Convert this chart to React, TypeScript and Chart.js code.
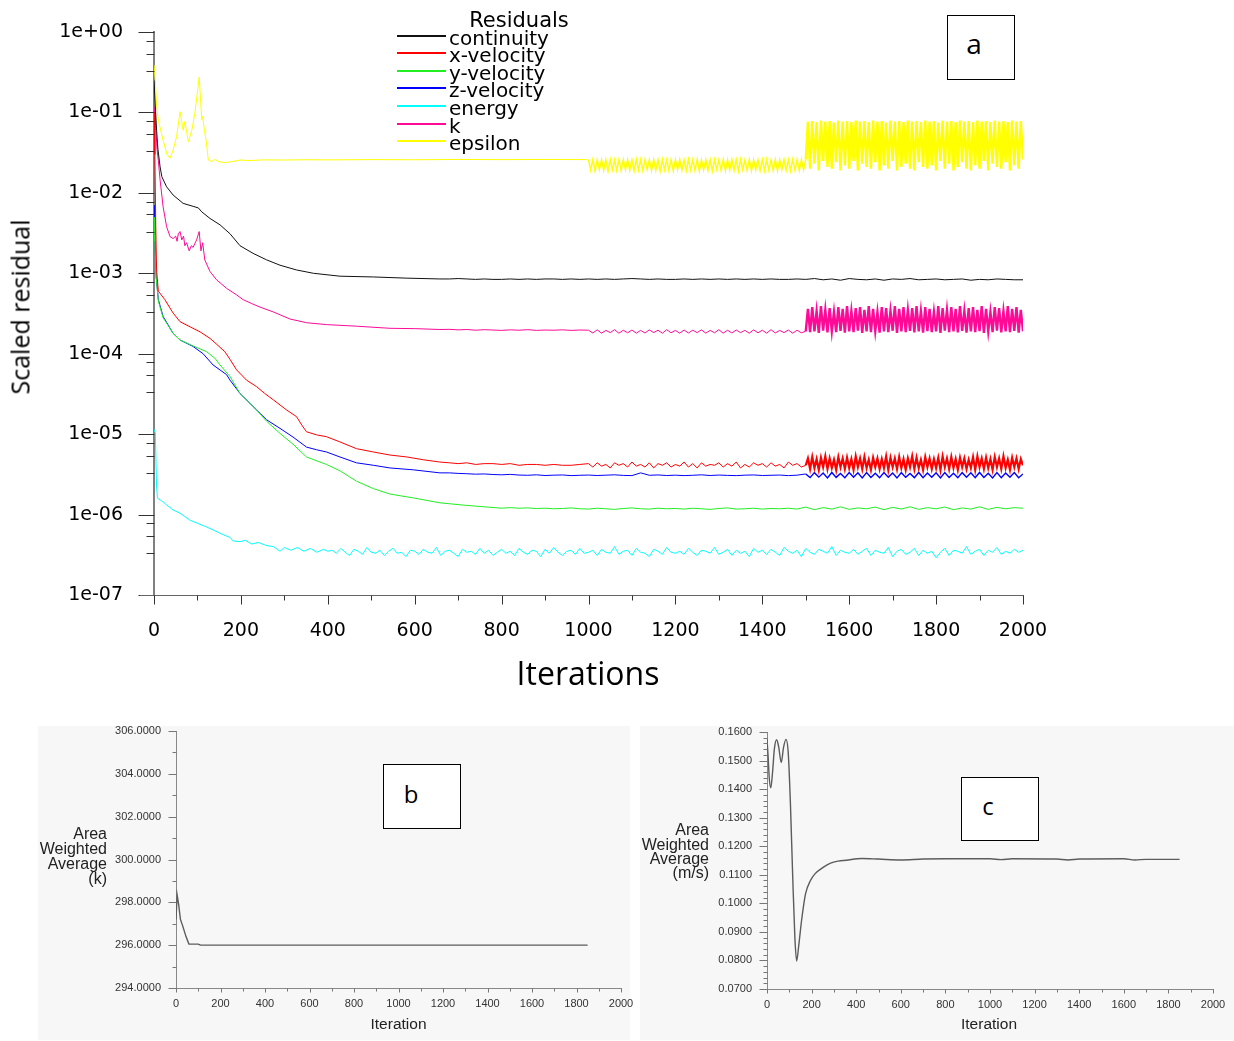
import React, { useEffect, useRef } from 'react';
import { Chart, registerables } from 'chart.js';

Chart.register(...registerables);

// ---------------- Panel (a): scaled residuals ----------------
const RES_SERIES_NAMES = ['continuity', 'x-velocity', 'y-velocity', 'z-velocity', 'energy', 'k', 'epsilon'];
const RES_SERIES_COLORS = ['#111111', '#ff0000', '#22ee22', '#0000ff', '#00ffff', '#ff0a96', '#ffff00'];
const RES_Y_DECADES = [1, 1e-1, 1e-2, 1e-3, 1e-4, 1e-5, 1e-6, 1e-7];
const RES_Y_LABELS = ['1e+00', '1e-01', '1e-02', '1e-03', '1e-04', '1e-05', '1e-06', '1e-07'];
const RES_Y_MINOR_FACTORS = [0.78, 0.54, 0.33];
const RES_X_TICKS = [0, 200, 400, 600, 800, 1000, 1200, 1400, 1600, 1800, 2000];
const RES_X_MINOR = [100, 300, 500, 700, 900, 1100, 1300, 1500, 1700, 1900];

// [iteration, residual]
const continuityHead: [number, number][] = [[0, 0.25], [3, 0.12], [6, 0.06], [9, 0.035], [14, 0.0211], [18, 0.0159], [29, 0.0119], [44, 0.0094], [67, 0.0074], [90, 0.0068], [102, 0.0065], [110, 0.0058], [129, 0.0048], [152, 0.004], [175, 0.0031], [198, 0.0022], [228, 0.00177], [259, 0.00147], [290, 0.00126], [328, 0.0011], [367, 0.001], [428, 0.00092], [505, 0.0009], [582, 0.00087], [658, 0.00085]];
// from 680, every 20 iterations, x1e-5
const continuityTail = [85, 86, 85, 84, 85, 84, 84, 85, 84, 85, 84, 85, 85, 84, 85, 84, 85,
  84, 85, 84, 85, 86, 85, 84, 85, 84, 84, 85, 84, 85, 84, 85, 84, 85, 84, 85, 84, 85, 84, 84, 85, 84,
  86, 83, 85, 82, 86, 84, 83, 85, 82, 85, 84, 86, 83, 84, 85, 83, 84, 85, 82, 84, 83, 85, 84, 83, 83];

const xVelHead: [number, number][] = [[0, 0.1], [2, 0.03], [4, 0.004], [6, 0.0011], [10, 0.0006], [25, 0.00047], [44, 0.00032], [60, 0.00025], [83, 0.000216], [106, 0.000187], [129, 0.000155], [145, 0.00013], [163, 0.000106], [175, 0.000085], [190, 0.000063], [213, 0.0000469], [236, 0.000039], [255, 0.000032], [275, 0.0000266], [305, 0.00002], [328, 0.0000165], [340, 0.000013], [351, 0.0000107], [374, 0.0000098], [397, 0.0000093], [428, 0.000008], [466, 0.0000066], [505, 0.000006], [543, 0.0000055], [582, 0.0000052], [620, 0.0000048], [658, 0.0000045]];
// from 680, every 20, x1e-7
const xVelTail = [44, 43, 44, 42, 43, 43, 42, 43, 41, 42, 42, 41, 42, 41, 41, 42];
// from 1000, every 10, x1e-7
const xVelBand1 = [43, 39, 44, 40, 42, 38, 44, 41, 43, 39, 45, 40, 42, 39, 44, 38, 43, 41, 44, 39,
  42, 40, 45, 39, 43, 38, 44, 40, 42, 41, 44, 39, 43, 40, 45, 38, 42, 39, 44, 41,
  43, 39, 44, 40, 42, 38, 45, 41, 43, 39];
// from 1500, every 5, x1e-7
const xVelBand2 = [41, 50, 37, 52, 38, 49, 36, 51, 39, 53, 37, 50, 38, 48, 36, 52, 39, 50, 37, 51,
  38, 49, 36, 53, 39, 50, 37, 52, 38, 48, 36, 51, 39, 50, 37, 49, 38, 53, 36, 51,
  39, 50, 37, 52, 38, 49, 36, 50, 39, 53, 37, 51, 38, 48, 36, 52, 39, 50, 37, 49,
  38, 51, 36, 53, 39, 50, 37, 52, 38, 49, 36, 51, 39, 50, 37, 48, 38, 52, 36, 53,
  39, 50, 37, 51, 38, 49, 36, 52, 39, 50, 37, 53, 38, 48, 36, 51, 39, 50, 37, 49,
  41];

const yVelHead: [number, number][] = [[0, 0.005], [2, 0.0025], [5, 0.0009], [10, 0.00045], [21, 0.00028], [44, 0.00018], [60, 0.000148], [90, 0.000125], [121, 0.000106], [140, 0.000088], [152, 0.0000724], [175, 0.000052], [198, 0.000032], [236, 0.00002], [259, 0.0000145], [290, 0.0000102], [320, 0.0000075], [351, 0.0000052], [397, 0.0000042], [428, 0.0000035], [466, 0.0000026], [505, 0.0000021], [543, 0.0000018], [600, 0.0000016], [658, 0.0000014], [720, 0.0000013], [800, 0.0000012]];
// from 820, every 20, x1e-8
const yVelTail = [122, 120, 121, 119, 120, 118, 119, 121, 118, 117, 120, 118, 116, 119, 121, 118, 117, 120, 118, 119, 117, 120, 118, 116, 119, 121, 117, 118, 120, 117, 119, 118, 120, 117,
  124, 115, 122, 117, 125, 116, 121, 118, 124, 115, 123, 117, 125, 116, 122, 118, 124, 115, 121, 117, 125, 116, 123, 118, 122, 120];

const zVelHead: [number, number][] = [[0, 0.007], [2, 0.003], [5, 0.0009], [10, 0.00047], [21, 0.00029], [44, 0.000179], [60, 0.000148], [90, 0.000123], [113, 0.0001], [136, 0.0000724], [167, 0.000055], [175, 0.0000469], [198, 0.000032], [236, 0.00002], [259, 0.0000151], [290, 0.0000118], [320, 0.0000092], [351, 0.0000069], [374, 0.0000064], [397, 0.000006], [428, 0.0000052], [466, 0.0000044], [505, 0.0000041], [543, 0.0000038], [597, 0.0000036], [658, 0.0000033]];
// from 680, every 20, x1e-8
const zVelTail = [330, 325, 322, 318, 320, 315, 312, 316, 310, 308, 312, 306, 309, 311, 305, 308, 310, 306, 309, 312,
  307, 305, 330, 308, 311, 306, 309, 305, 308, 312, 306, 310, 307, 305, 309, 311, 306, 308, 310, 305, 309];
// from 1500, every 10, x1e-8
const zVelBand = [320, 288, 332, 292, 328, 286, 334, 290, 325, 287, 333, 292, 330, 286, 332, 289, 326, 288, 334, 291,
  329, 286, 332, 290, 325, 288, 334, 287, 328, 291, 331, 286, 333, 289, 326, 288, 332, 292, 330, 287,
  334, 290, 327, 286, 332, 288, 329, 291, 333, 287, 320];

const energyHead: [number, number][] = [[0, 0.0000115], [3, 0.0000105], [6, 0.0000022], [8, 0.0000016], [20, 0.00000145], [29, 0.00000132], [44, 0.00000114], [60, 0.00000104], [83, 8.5e-7], [100, 7.8e-7], [121, 7.0e-7], [140, 6.3e-7], [160, 5.6e-7], [175, 5.2e-7], [182, 4.7e-7], [198, 4.6e-7], [210, 4.8e-7], [225, 4.3e-7], [240, 4.5e-7], [260, 4.1e-7], [275, 4.0e-7], [290, 3.5e-7], [300, 3.9e-7], [315, 3.6e-7], [330, 3.9e-7], [345, 3.5e-7], [360, 3.8e-7], [375, 3.4e-7], [390, 3.7e-7], [400, 3.5e-7]];
// from 410, every 10, x1e-8
const energyTail = [36, 33, 38, 34, 31, 37, 35, 32, 39, 34, 33, 36, 31, 35, 38, 33, 34, 30, 36, 35,
  32, 37, 34, 33, 39, 31, 35, 36, 33, 30, 37, 34, 35, 32, 38, 33, 36, 31, 34, 37,
  33, 35, 31, 38, 34, 32, 36, 35, 30, 37, 33, 39, 34, 31, 35, 36, 32, 38, 33, 34,
  36, 31, 37, 34, 33, 40, 32, 35, 36, 31, 38, 34, 33, 30, 37, 35, 32, 39, 34, 33,
  35, 32, 38, 34, 31, 36, 35, 33, 39, 32, 34, 37, 31, 36, 33, 35, 30, 38, 34, 36,
  32, 37, 34, 31, 39, 35, 33, 36, 30, 38, 34, 32, 37, 35, 33, 40, 31, 36, 34, 33,
  37, 32, 35, 38, 31, 36, 34, 33, 39, 30, 35, 37, 32, 34, 38, 31, 36, 33, 35, 29,
  34, 38, 31, 36, 35, 33, 40, 32, 35, 37, 31, 36, 34, 39, 32, 35, 33, 37, 34, 36];

const kHead: [number, number][] = [[0, 0.12], [3, 0.08], [7, 0.035], [10, 0.025], [14, 0.0145], [21, 0.0067], [29, 0.0038], [37, 0.00285], [44, 0.0027], [50, 0.0029], [53, 0.0025], [56, 0.0031], [60, 0.0033], [64, 0.0026], [68, 0.0029], [71, 0.0022], [75, 0.0024], [81, 0.0019], [86, 0.0022], [90, 0.0021], [98, 0.0026], [104, 0.0033], [108, 0.0019], [112, 0.0024], [117, 0.00146], [129, 0.00105], [144, 0.00083], [167, 0.00065], [190, 0.00054], [205, 0.00047], [225, 0.00042], [244, 0.00038], [275, 0.00033], [313, 0.00027], [351, 0.000243], [397, 0.00023], [466, 0.00022], [543, 0.000207], [600, 0.000205], [658, 0.0002]];
// from 680, every 20, x1e-5
const kTail = [20.1, 19.8, 20.0, 19.6, 19.9, 19.7, 19.5, 19.8, 19.6, 19.9, 19.5, 19.7, 19.6, 19.8, 19.5, 19.7];
// from 1000, every 10, x1e-5
const kBand1 = [19.6, 18.1, 19.8, 18.0, 19.5, 18.3, 19.9, 18.0, 19.6, 18.2, 19.7, 18.0, 19.5, 18.1, 19.8, 18.3, 19.6, 18.0, 19.9, 18.2,
  19.5, 18.0, 19.7, 18.1, 19.6, 18.3, 19.8, 18.0, 19.5, 18.2, 19.9, 18.0, 19.6, 18.1, 19.7, 18.3, 19.5, 18.0, 19.8, 18.2,
  19.6, 18.0, 19.9, 18.1, 19.5, 18.3, 19.7, 18.0, 19.6, 18.2];
// from 1500, every 5, x1e-5
const kBand2 = [19, 36, 18.5, 38, 19, 34, 18.2, 39, 19.3, 35, 18.4, 37, 19, 33, 18.6, 38, 19.2, 36, 18.3, 39,
  19, 34, 18.5, 37, 19.4, 38, 18.2, 35, 19, 39, 18.6, 36, 19.1, 33, 18.3, 38, 19, 37, 18.5, 34,
  19.3, 39, 18.2, 36, 19, 38, 18.6, 35, 19.2, 37, 18.4, 39, 19, 34, 18.3, 38, 19.1, 36, 18.5, 33,
  19, 39, 18.2, 37, 19.3, 35, 18.6, 38, 19, 36, 18.4, 39, 19.2, 34, 18.3, 37, 19, 38, 18.5, 35,
  19.1, 39, 18.2, 36, 19, 33, 18.6, 38, 19.3, 37, 18.4, 34, 19, 39, 18.5, 36, 19.2, 38, 18.3, 35,
  19];

const epsHead: [number, number][] = [[0, 0.39], [3, 0.25], [6, 0.12], [10, 0.08], [21, 0.045], [30, 0.03], [37, 0.027], [44, 0.034], [52, 0.05], [60, 0.102], [64, 0.077], [67, 0.06], [71, 0.077], [75, 0.058], [79, 0.043], [87, 0.06], [94, 0.097], [100, 0.18], [104, 0.275], [108, 0.12], [110, 0.081], [112, 0.09], [116, 0.06], [120, 0.045], [125, 0.0256], [132, 0.0245], [140, 0.026], [150, 0.0243], [163, 0.0238], [180, 0.0245], [198, 0.0256], [220, 0.0252], [250, 0.0257], [300, 0.0256], [350, 0.0258], [400, 0.0257], [500, 0.0259], [600, 0.0258], [700, 0.026], [800, 0.0259], [900, 0.026], [995, 0.0259]];
// from 1000, every 5, x1e-4
const epsBand1 = [258, 192, 259, 188, 257, 195, 259, 190, 258, 187, 259, 193, 257, 190, 259, 189, 258, 194, 259, 191,
  257, 188, 259, 192, 258, 190, 259, 195, 257, 189, 259, 191, 258, 187, 259, 193, 257, 190, 259, 188,
  258, 194, 259, 191, 257, 189, 259, 192, 258, 190, 259, 187, 257, 193, 259, 190, 258, 188, 259, 195,
  257, 191, 259, 189, 258, 192, 259, 190, 257, 187, 259, 194, 258, 191, 259, 188, 257, 193, 259, 190,
  258, 189, 259, 192, 257, 190, 259, 188, 258, 194, 259, 191, 257, 189, 259, 192, 258, 190, 259, 193];
// from 1500, every 5, x1e-3
const epsBand2 = [26, 77, 20, 78, 23, 76, 19, 79, 25, 77, 21, 78, 20, 75, 24, 79, 19, 77, 22, 78,
  20, 76, 25, 79, 19, 77, 23, 78, 21, 76, 20, 79, 24, 77, 19, 78, 22, 75, 20, 79,
  25, 77, 19, 78, 21, 76, 23, 79, 20, 77, 19, 78, 24, 76, 21, 79, 20, 77, 22, 78,
  19, 75, 25, 79, 20, 77, 23, 78, 19, 76, 21, 79, 24, 77, 20, 78, 19, 76, 22, 79,
  20, 77, 25, 78, 19, 76, 23, 79, 21, 77, 20, 78, 24, 76, 19, 79, 22, 77, 20, 78,
  26];

// line weight used where a series turns into a dense oscillation band
const RES_BAND1_FROM = [Infinity, Infinity, Infinity, Infinity, Infinity, Infinity, 1000];
const RES_BAND2_FROM = [Infinity, 1500, Infinity, 1500, Infinity, 1500, 1500];
const RES_BAND1_WIDTH = 1.5;
const RES_BAND2_WIDTH = [1, 2.2, 1, 1.4, 1, 2.4, 2.4];

// ---------------- Panel (b): area weighted average temperature ----------------
const TEMP_ITER = [0, 5, 12, 20, 30, 45, 58, 100, 110, 1850];
const TEMP_VALS = [297.2, 298.35, 297.9, 297.2, 296.9, 296.4, 296.05, 296.05, 296.0, 296.0];
const TEMP_Y_TICKS = [294, 296, 298, 300, 302, 304, 306];
const TEMP_Y_MINOR = [295, 297, 299, 301, 303, 305];

// ---------------- Panel (c): area weighted average velocity ----------------
const VEL_ITER = [0, 5, 10, 17, 25, 33, 43, 52, 64, 74, 85, 95, 105, 115, 125, 133, 142, 155, 173, 195, 216, 250, 285, 320, 355, 425, 500, 600, 700, 800, 1000, 1050, 1100, 1300, 1350, 1400, 1600, 1650, 1700, 1850];
const VEL_VALS = [0.1575, 0.1515, 0.144, 0.1405, 0.146, 0.154, 0.1573, 0.155, 0.1493, 0.1545, 0.1574, 0.153, 0.135, 0.11, 0.088, 0.0798, 0.085, 0.094, 0.1034, 0.108, 0.1104, 0.1125, 0.1141, 0.1148, 0.1151, 0.1157, 0.1155, 0.1152, 0.1155, 0.1156, 0.1156, 0.1153, 0.1156, 0.1155, 0.1152, 0.1155, 0.1156, 0.1152, 0.1154, 0.1154];
const VEL_Y_TICKS = [0.07, 0.08, 0.09, 0.1, 0.11, 0.12, 0.13, 0.14, 0.15, 0.16];
const VEL_Y_MINOR_STEPS = [0.002, 0.004, 0.006, 0.008];

const SMALL_X_TICKS = [0, 200, 400, 600, 800, 1000, 1200, 1400, 1600, 1800, 2000];
const SMALL_X_MINOR = [100, 300, 500, 700, 900, 1100, 1300, 1500, 1700, 1900];

// ---------------- helpers ----------------
type P = { x: number; y: number };
const pts = (arr: [number, number][]): P[] => arr.map(([x, y]) => ({ x, y }));
const seg = (start: number, step: number, vals: number[], unit: number): P[] =>
  vals.map((v, i) => ({ x: start + i * step, y: v * unit }));

const RES_SERIES_DATA: P[][] = [
  [...pts(continuityHead), ...seg(680, 20, continuityTail, 1e-5)],
  [...pts(xVelHead), ...seg(680, 20, xVelTail, 1e-7), ...seg(1000, 10, xVelBand1, 1e-7), ...seg(1500, 5, xVelBand2, 1e-7)],
  [...pts(yVelHead), ...seg(820, 20, yVelTail, 1e-8)],
  [...pts(zVelHead), ...seg(680, 20, zVelTail, 1e-8), ...seg(1500, 10, zVelBand, 1e-8)],
  [...pts(energyHead), ...seg(410, 10, energyTail, 1e-8)],
  [...pts(kHead), ...seg(680, 20, kTail, 1e-5), ...seg(1000, 10, kBand1, 1e-5), ...seg(1500, 5, kBand2, 1e-5)],
  [...pts(epsHead), ...seg(1000, 5, epsBand1, 1e-4), ...seg(1500, 5, epsBand2, 1e-3)],
];

const zeroPad = (s: any) => {
  s.paddingTop = 0;
  s.paddingBottom = 0;
  s.paddingLeft = 0;
  s.paddingRight = 0;
};

const tickMarksPlugin = {
  id: 'tickMarks',
  afterDraw(chart: any, _args: any, opts: any) {
    const ctx = chart.ctx as CanvasRenderingContext2D;
    const { left, bottom } = chart.chartArea;
    const xs = chart.scales.x;
    const ys = chart.scales.y;
    ctx.save();
    ctx.lineWidth = 1;
    ctx.strokeStyle = opts.color;
    const line = (x1: number, y1: number, x2: number, y2: number) => {
      ctx.beginPath();
      ctx.moveTo(x1, y1);
      ctx.lineTo(x2, y2);
      ctx.stroke();
    };
    const bx = Math.round(bottom) + 0.5;
    const lx = Math.round(left) - 0.5;
    for (const v of opts.xMajor) {
      const p = Math.round(xs.getPixelForValue(v)) + 0.5;
      line(p, bx, p, bx + opts.xMajorLen);
    }
    for (const v of opts.xMinor) {
      const p = Math.round(xs.getPixelForValue(v)) + 0.5;
      line(p, bx, p, bx + opts.xMinorLen);
    }
    for (const v of opts.yMajor) {
      const p = Math.round(ys.getPixelForValue(v)) + 0.5;
      line(lx - opts.yMajorLen, p, lx + 1, p);
    }
    for (const v of opts.yMinor) {
      const p = Math.round(ys.getPixelForValue(v)) + 0.5;
      line(lx - opts.yMinorLen, p, lx + 1, p);
    }
    if (opts.extendBottom) {
      ctx.strokeStyle = opts.axisColor;
      line(left - opts.extendBottom, bx, left, bx);
    }
    ctx.restore();
  },
};

function mainConfig(): any {
  const yMinor: number[] = [];
  RES_Y_DECADES.slice(0, -1).forEach((d) => RES_Y_MINOR_FACTORS.forEach((f) => yMinor.push(d * f)));
  return {
    type: 'line',
    data: {
      datasets: RES_SERIES_NAMES.map((name, i) => ({
        label: name,
        data: RES_SERIES_DATA[i],
        borderColor: RES_SERIES_COLORS[i],
        backgroundColor: RES_SERIES_COLORS[i],
        borderWidth: 1,
        pointRadius: 0,
        tension: 0,
        fill: false,
        segment: {
          borderWidth: (c: any) =>
            c.p0.parsed.x >= RES_BAND2_FROM[i]
              ? RES_BAND2_WIDTH[i]
              : c.p0.parsed.x >= RES_BAND1_FROM[i]
                ? RES_BAND1_WIDTH
                : 1,
        },
      })),
    },
    options: {
      responsive: false,
      animation: false,
      events: [],
      layout: { padding: { top: 32, right: 37, left: 0, bottom: 0 } },
      plugins: {
        legend: { display: false },
        tooltip: { enabled: false },
        tickMarks: {
          color: '#333333',
          axisColor: '#666666',
          xMajor: RES_X_TICKS,
          xMinor: RES_X_MINOR,
          xMajorLen: 9,
          xMinorLen: 5,
          yMajor: RES_Y_DECADES,
          yMinor,
          yMajorLen: 15,
          yMinorLen: 7,
          extendBottom: 14,
        },
      },
      scales: {
        x: {
          type: 'linear',
          min: 0,
          max: 2000,
          grid: { display: false, drawTicks: false },
          border: { display: true, color: '#666666', width: 1 },
          ticks: {
            font: { family: 'DejaVu Sans', size: 19 },
            color: '#000000',
            padding: 25,
            maxRotation: 0,
            autoSkip: false,
            callback: (v: any) => String(v),
          },
          afterBuildTicks: (s: any) => {
            s.ticks = RES_X_TICKS.map((v) => ({ value: v }));
          },
          afterFit: (s: any) => {
            s.height = 105;
            zeroPad(s);
          },
        },
        y: {
          type: 'logarithmic',
          min: 1e-7,
          max: 1,
          grid: { display: false, drawTicks: false },
          border: { display: true, color: '#808080', width: 2 },
          ticks: {
            font: { family: 'DejaVu Sans', size: 19 },
            color: '#000000',
            padding: 31,
            autoSkip: false,
            callback: (_v: any, i: number) => RES_Y_LABELS[i],
          },
          afterBuildTicks: (s: any) => {
            s.ticks = RES_Y_DECADES.map((v) => ({ value: v }));
          },
          afterFit: (s: any) => {
            s.width = 154;
            zeroPad(s);
          },
        },
      },
    },
    plugins: [tickMarksPlugin],
  };
}

function smallConfig(
  iters: number[],
  vals: number[],
  yMin: number,
  yMax: number,
  yTicks: number[],
  yMinor: number[],
  yWidth: number,
  padTop: number,
  padRight: number,
  xHeight: number,
  smooth: boolean,
): any {
  return {
    type: 'line',
    data: {
      datasets: [
        {
          label: 'Area Weighted Average',
          data: iters.map((x, i) => ({ x, y: vals[i] })),
          borderColor: '#5c5c5c',
          borderWidth: 1.4,
          pointRadius: 0,
          tension: 0,
          cubicInterpolationMode: smooth ? 'monotone' : 'default',
          fill: false,
        },
      ],
    },
    options: {
      responsive: false,
      animation: false,
      events: [],
      layout: { padding: { top: padTop, right: padRight, left: 0, bottom: 0 } },
      plugins: {
        legend: { display: false },
        tooltip: { enabled: false },
        tickMarks: {
          color: '#777777',
          axisColor: '#888888',
          xMajor: SMALL_X_TICKS,
          xMinor: SMALL_X_MINOR,
          xMajorLen: 4,
          xMinorLen: 3,
          yMajor: yTicks,
          yMinor,
          yMajorLen: 7,
          yMinorLen: 3,
          extendBottom: 0,
        },
      },
      scales: {
        x: {
          type: 'linear',
          min: 0,
          max: 2000,
          grid: { display: false, drawTicks: false },
          border: { display: true, color: '#888888', width: 1 },
          ticks: {
            font: { family: 'Liberation Sans', size: 11 },
            color: '#333333',
            padding: 9,
            maxRotation: 0,
            autoSkip: false,
            callback: (v: any) => String(v),
          },
          afterBuildTicks: (s: any) => {
            s.ticks = SMALL_X_TICKS.map((v) => ({ value: v }));
          },
          afterFit: (s: any) => {
            s.height = xHeight;
            zeroPad(s);
          },
        },
        y: {
          type: 'linear',
          min: yMin,
          max: yMax,
          grid: { display: false, drawTicks: false },
          border: { display: true, color: '#888888', width: 1 },
          ticks: {
            font: { family: 'Liberation Sans', size: 11 },
            color: '#333333',
            padding: 15,
            autoSkip: false,
            callback: (v: any) => Number(v).toFixed(4),
          },
          afterBuildTicks: (s: any) => {
            s.ticks = yTicks.map((v) => ({ value: v }));
          },
          afterFit: (s: any) => {
            s.width = yWidth;
            zeroPad(s);
          },
        },
      },
    },
    plugins: [tickMarksPlugin],
  };
}

function ChartCanvas(props: { left: number; top: number; width: number; height: number; make: () => any }) {
  const ref = useRef<HTMLCanvasElement | null>(null);
  useEffect(() => {
    if (!ref.current) return;
    const chart = new Chart(ref.current, props.make());
    return () => chart.destroy();
  }, []);
  return (
    <canvas
      ref={ref}
      width={props.width}
      height={props.height}
      style={{ position: 'absolute', left: props.left, top: props.top, width: props.width, height: props.height }}
    />
  );
}

function Txt(props: {
  x: number;
  y: number;
  size: number;
  family: string;
  color?: string;
  anchor?: 'center' | 'right' | 'left';
  rotate?: number;
  children: React.ReactNode;
}) {
  const tx = props.anchor === 'right' ? '-100%' : props.anchor === 'left' ? '0' : '-50%';
  return (
    <div
      style={{
        position: 'absolute',
        left: props.x,
        top: props.y,
        transform: `translate(${tx}, -50%)${props.rotate ? ` rotate(${props.rotate}deg)` : ''}`,
        transformOrigin: 'center center',
        fontFamily: props.family,
        fontSize: props.size,
        lineHeight: 1,
        whiteSpace: 'nowrap',
        color: props.color || '#000',
      }}
    >
      {props.children}
    </div>
  );
}

function Box(props: { left: number; top: number; width: number; height: number }) {
  return (
    <div
      style={{
        position: 'absolute',
        left: props.left,
        top: props.top,
        width: props.width,
        height: props.height,
        border: '1.5px solid #000',
        boxSizing: 'border-box',
        background: '#fff',
      }}
    />
  );
}

export default function App() {
  const velMinor: number[] = [];
  VEL_Y_TICKS.slice(0, -1).forEach((t) => VEL_Y_MINOR_STEPS.forEach((s) => velMinor.push(t + s)));
  const legendRowY = [36, 53, 71, 88, 106, 124, 141];
  return (
    <div style={{ position: 'absolute', left: 0, top: 0, width: 1234, height: 1041, background: '#fff', overflow: 'hidden' }}>
      {/* panel backgrounds for b and c */}
      <div style={{ position: 'absolute', left: 38, top: 726, width: 592, height: 314, background: '#f7f7f7' }} />
      <div style={{ position: 'absolute', left: 640, top: 726, width: 594, height: 314, background: '#f7f7f7' }} />

      <ChartCanvas left={0} top={0} width={1060} height={700} make={mainConfig} />
      <ChartCanvas
        left={0}
        top={715}
        width={640}
        height={326}
        make={() => smallConfig(TEMP_ITER, TEMP_VALS, 294, 306, TEMP_Y_TICKS, TEMP_Y_MINOR, 176, 16, 19, 53, false)}
      />
      <ChartCanvas
        left={630}
        top={715}
        width={604}
        height={326}
        make={() => smallConfig(VEL_ITER, VEL_VALS, 0.07, 0.16, VEL_Y_TICKS, velMinor, 137, 17, 21, 52, true)}
      />

      {/* panel a texts */}
      <Txt x={20} y={307} size={25} family="'Open Sans'" rotate={-90}>Scaled residual</Txt>
      <Txt x={588} y={673} size={32} family="'Open Sans'">Iterations</Txt>
      <Txt x={519} y={20} size={21} family="'DejaVu Sans'">Residuals</Txt>
      {RES_SERIES_NAMES.map((name, i) => (
        <React.Fragment key={name}>
          <div
            style={{
              position: 'absolute',
              left: 397,
              top: legendRowY[i] - 1,
              width: 49,
              height: 2,
              background: RES_SERIES_COLORS[i],
            }}
          />
          <Txt x={449} y={legendRowY[i] + 2} size={20} family="'DejaVu Sans'" anchor="left">
            {name}
          </Txt>
        </React.Fragment>
      ))}
      <Box left={947} top={15} width={68} height={65} />
      <Txt x={974} y={43} size={28} family="'Open Sans'">a</Txt>

      {/* panel b texts */}
      <Txt x={107} y={833.5} size={16} family="'Liberation Sans'" anchor="right" color="#222">Area</Txt>
      <Txt x={107} y={848.7} size={16} family="'Liberation Sans'" anchor="right" color="#222">Weighted</Txt>
      <Txt x={107} y={863.9} size={16} family="'Liberation Sans'" anchor="right" color="#222">Average</Txt>
      <Txt x={107} y={879.1} size={16} family="'Liberation Sans'" anchor="right" color="#222">(k)</Txt>
      <Txt x={398.5} y={1024} size={15.5} family="'Liberation Sans'" color="#222">Iteration</Txt>
      <Box left={383} top={764} width={78} height={65} />
      <Txt x={411} y={794} size={24} family="'Open Sans'">b</Txt>

      {/* panel c texts */}
      <Txt x={709} y={830} size={16} family="'Liberation Sans'" anchor="right" color="#222">Area</Txt>
      <Txt x={709} y={844.5} size={16} family="'Liberation Sans'" anchor="right" color="#222">Weighted</Txt>
      <Txt x={709} y={858.7} size={16} family="'Liberation Sans'" anchor="right" color="#222">Average</Txt>
      <Txt x={709} y={873} size={16} family="'Liberation Sans'" anchor="right" color="#222">(m/s)</Txt>
      <Txt x={989} y={1024} size={15.5} family="'Liberation Sans'" color="#222">Iteration</Txt>
      <Box left={961} top={777} width={78} height={64} />
      <Txt x={988} y={806} size={24} family="'Open Sans'">c</Txt>
    </div>
  );
}
